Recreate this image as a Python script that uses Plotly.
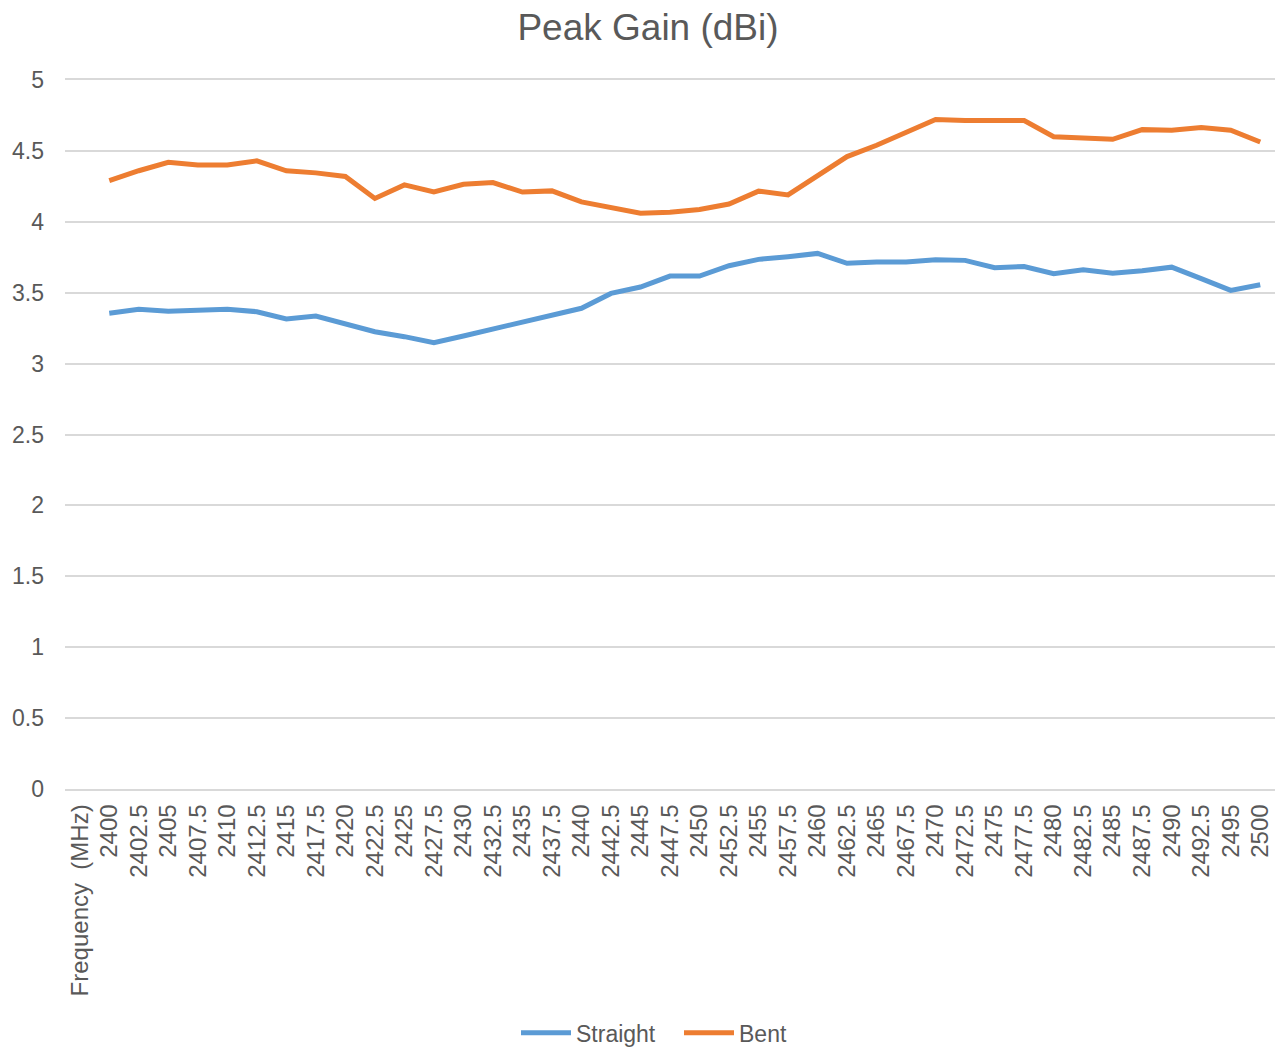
import plotly.graph_objects as go

header_label = "Frequency\u00a0\u00a0(MHz)"
freqs = ["2400", "2402.5", "2405", "2407.5", "2410", "2412.5", "2415", "2417.5",
         "2420", "2422.5", "2425", "2427.5", "2430", "2432.5", "2435", "2437.5",
         "2440", "2442.5", "2445", "2447.5", "2450", "2452.5", "2455", "2457.5",
         "2460", "2462.5", "2465", "2467.5", "2470", "2472.5", "2475", "2477.5",
         "2480", "2482.5", "2485", "2487.5", "2490", "2492.5", "2495", "2500"]
straight = [3.355, 3.383, 3.37, 3.38, 3.383, 3.366, 3.315, 3.336, 3.277, 3.225,
            3.19, 3.148, 3.195, 3.242, 3.29, 3.338, 3.39, 3.495, 3.54, 3.617,
            3.617, 3.69, 3.735, 3.754, 3.777, 3.707, 3.716, 3.716, 3.732, 3.728,
            3.676, 3.685, 3.634, 3.662, 3.638, 3.655, 3.68, 3.599, 3.516, 3.556]
bent = [4.29, 4.36, 4.42, 4.40, 4.40, 4.43, 4.36, 4.345, 4.32, 4.165,
        4.26, 4.21, 4.265, 4.277, 4.21, 4.218, 4.14, 4.10, 4.06, 4.068,
        4.087, 4.125, 4.216, 4.19, 4.33, 4.46, 4.54, 4.634, 4.721, 4.714,
        4.711, 4.714, 4.60, 4.587, 4.582, 4.65, 4.646, 4.665, 4.646, 4.563]
y_ticks = [0, 0.5, 1, 1.5, 2, 2.5, 3, 3.5, 4, 4.5, 5]
y_tick_text = ["0", "0.5", "1", "1.5", "2", "2.5", "3", "3.5", "4", "4.5", "5"]

categories = [header_label] + freqs

FONT = "Liberation Sans, Arial, sans-serif"
GREY = "#595959"
W, H = 1276, 1047

fig = go.Figure()
fig.add_trace(go.Scatter(x=categories, y=[None] + straight, mode="lines", name="Straight",
                         line=dict(color="#5B9BD5", width=5), connectgaps=False))
fig.add_trace(go.Scatter(x=categories, y=[None] + bent, mode="lines", name="Bent",
                         line=dict(color="#ED7D31", width=5), connectgaps=False))

fig.update_layout(
    width=W, height=H,
    margin=dict(l=65, r=1, t=80, b=258, autoexpand=False),
    paper_bgcolor="white", plot_bgcolor="white",
    font=dict(family=FONT, color=GREY, size=23),
    title=dict(text="Peak Gain (dBi)", x=648 / W, xref="container", xanchor="center",
               y=1 - 27 / H, yref="container", yanchor="middle",
               font=dict(size=37, color=GREY, family=FONT)),
    showlegend=True,
    legend=dict(orientation="h", x=(516 - 65) / 1210, xanchor="left", y=-0.344, yanchor="middle",
                font=dict(size=23, color=GREY), itemwidth=50,
                entrywidth=98, entrywidthmode="pixels", traceorder="normal"),
)
fig.update_xaxes(type="category", categoryorder="array", categoryarray=categories,
                 tickangle=-90, showgrid=False, zeroline=False,
                 showline=True, mirror=True, linecolor="#D9D9D9", linewidth=1.5,
                 ticks="", ticklabelstandoff=4, automargin=False,
                 tickfont=dict(size=24, color=GREY), range=[-0.5, len(categories) - 0.5])
fig.update_yaxes(range=[0, 5], tickvals=y_ticks, ticktext=y_tick_text,
                 showgrid=True, gridcolor="#D9D9D9", gridwidth=1.5, zeroline=False,
                 showline=False, ticks="", ticklabelstandoff=20, automargin=False,
                 tickfont=dict(size=23, color=GREY))

fig.write_html("out.html", config={"displayModeBar": False},
               post_script="document.body.style.margin='0';")
